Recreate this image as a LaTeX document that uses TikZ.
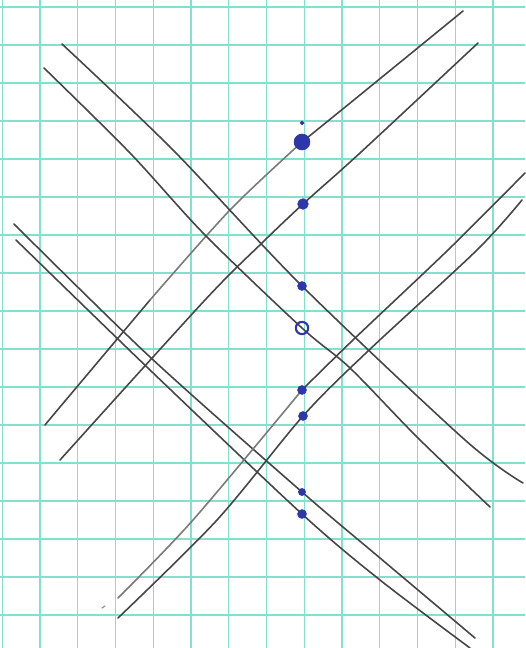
\documentclass[tikz,border=0pt]{standalone}
\usetikzlibrary{positioning}

\definecolor{gridcyan}{RGB}{130,225,205}
\definecolor{penblue}{RGB}{45,55,170}
\definecolor{pencil}{RGB}{70,70,70}

\begin{document}
\begin{tikzpicture}[
    x=0.02cm, y=-0.02cm,
    gridline/.style={draw=gridcyan, line width=0.8pt},
    stroke/.style={draw=pencil, line width=0.9pt, line cap=round, line join=round},
    light/.style={stroke, draw=pencil!72},
    faint/.style={draw=pencil!60, line width=0.7pt, line cap=round},
    mark/.style={circle, fill=penblue, draw=penblue, inner sep=0pt, minimum size=#1}
]

% ==== Paper ====
\useasboundingbox (0,0) rectangle (525,648);
\fill[white] (0,0) rectangle (525,648);
\foreach \i in {0,...,13} {
  \draw[gridline] ({2.25+37.75*\i},0) -- ({2.25+37.75*\i},648);
}
\foreach \j in {0,...,17} {
  \draw[gridline] (0,{7+38*\j}) -- (525,{7+38*\j});
}

% ==== Marks on the vertical ====
\coordinate (tick) at (302,123);
\coordinate (p1) at (302,142);
\coordinate (p2) at (303,204);
\coordinate (p3) at (302,286);
\coordinate (p4) at (302,328);
\coordinate (p5) at (302,390);
\coordinate (p6) at (303,416);
\coordinate (p7) at (302,492);
\coordinate (p8) at (302,514);

% ==== Upper rising pair ====
\draw[stroke] plot[smooth] coordinates {(45,425) (60,407) (150,300)};
\draw[light] plot[smooth] coordinates {(150,300) (230,210) (p1)};
\draw[stroke] plot[smooth] coordinates {(p1) (360,95) (463,11)};
\draw[stroke] plot[smooth] coordinates {(60,460) (205,300) (263,242) (p2) (360,153) (478,43)};

% ==== Upper falling pair ====
\draw[stroke] plot[smooth] coordinates {(62,44) (173,150) (p3) (465,440) (523,483)};
\draw[stroke] plot[smooth] coordinates {(44,68) (130,153) (205,235) (p4) (350,368) (417,437) (490,507)};

% ==== Lower falling pair ====
\draw[stroke] plot[smooth] coordinates {(14,224) (150,357) (p7) (380,558) (475,638)};
\draw[stroke] plot[smooth] coordinates {(16,240) (150,370) (p8) (380,580) (470,648)};

% ==== Lower rising pair ====
\draw[light] plot[smooth] coordinates {(118,598) (193,520) (p5)};
\draw[stroke] plot[smooth] coordinates {(p5) (353,340) (448,250) (525,173)};
\draw[stroke] plot[smooth] coordinates {(118,618) (217,520) (p6) (367,352) (477,250) (522,200)};

% stray pencil tick
\coordinate (stray) at (102,608);
\draw[faint] (stray) -- ++(3,-2);

% ==== Pen dots ====
\node[mark=2pt] (d0) at (tick) {};
\node[mark=9pt] (d1) at (p1) {};
\node[mark=6pt] (d2) at (p2) {};
\node[mark=5pt] (d3) at (p3) {};
\node[circle, draw=penblue, line width=1.2pt, inner sep=0pt, minimum size=7pt] (d4) at (p4) {};
\node[mark=5pt] (d5) at (p5) {};
\node[mark=5pt] (d6) at (p6) {};
\node[mark=4pt] (d7) at (p7) {};
\node[mark=5pt] (d8) at (p8) {};

\end{tikzpicture}
\end{document}
